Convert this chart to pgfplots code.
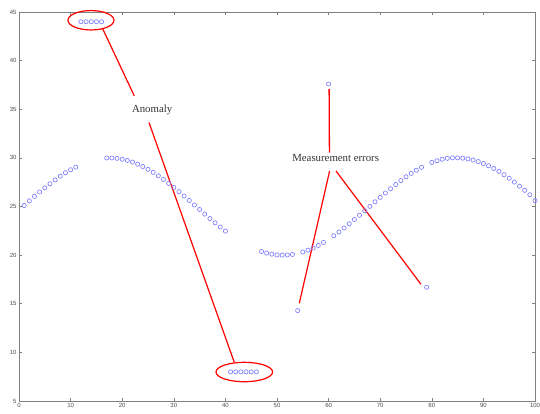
\documentclass[border=0pt]{standalone}
\usepackage{pgfplots}
\pgfplotsset{compat=1.18}
\usepackage{fontspec}
\setmainfont{Liberation Serif}
\newfontfamily\ticksans{Liberation Sans}
\definecolor{axgray}{RGB}{128,128,128}
\definecolor{mkblue}{RGB}{125,125,255}
\begin{document}
\begin{tikzpicture}
\begin{axis}[
  scale only axis, width=516pt, height=389pt,
  xmin=0, xmax=100, ymin=5, ymax=45,
  xtick={0,10,...,100}, ytick={5,10,...,45},
  tick align=inside, major tick length=3pt,
  axis line style={axgray, line width=0.6pt},
  every tick/.style={axgray, line width=0.5pt},
  tick label style={font=\ticksans\fontsize{6}{7}\selectfont, text=black!70},
  /pgf/number format/assume math mode=true,
  xticklabel style={yshift=1pt},
  yticklabel style={xshift=1pt},
  clip=false,
]
\addplot[only marks, mark=o, mark size=2.1pt, mkblue, mark options={line width=0.65pt}] coordinates {
(1,25.10)(2,25.58)(3,26.04)(4,26.49)(5,26.92)(6,27.34)(7,27.74)(8,28.12)(9,28.47)(10,28.78)(11,29.05)
(12,44)(13,44)(14,44)(15,44)(16,44)
(17,29.99)(18,29.99)(19,29.95)(20,29.86)(21,29.74)(22,29.57)(23,29.35)(24,29.11)(25,28.82)(26,28.51)
(27,28.16)(28,27.78)(29,27.38)(30,26.96)(31,26.53)(32,26.08)(33,25.62)(34,25.15)(35,24.69)(36,24.22)
(37,23.76)(38,23.32)(39,22.89)(40,22.47)
(41,8)(42,8)(43,8)(44,8)(45,8)(46,8)
(47,20.37)(48,20.21)(49,20.10)(50,20.02)(51,20.00)(52,20.02)(53,20.07)
(54,14.3)
(55,20.32)(56,20.51)(57,20.73)(58,21.00)(59,21.30)
(60,37.6)
(61,21.99)(62,22.38)(63,22.79)(64,23.22)(65,23.66)(66,24.10)(67,24.56)(68,25.01)(69,25.48)(70,25.94)
(71,26.39)(72,26.83)(73,27.26)(74,27.66)(75,28.05)(76,28.41)(77,28.73)(78,29.03)
(79,16.7)
(80,29.53)(81,29.71)(82,29.86)(83,29.95)(84,30.00)(85,30.00)(86,29.97)(87,29.89)(88,29.78)(89,29.62)
(90,29.42)(91,29.19)(92,28.91)(93,28.61)(94,28.27)(95,27.90)(96,27.51)(97,27.09)(98,26.66)(99,26.21)(100,25.60)
};
% annotations
\draw[red, line width=1.2pt] (axis cs:13.95,44.15) ellipse [x radius=23pt, y radius=9.7pt];
\draw[red, line width=1.2pt] (axis cs:43.66,7.98) ellipse [x radius=28.3pt, y radius=9.7pt];
\draw[red, line width=1.2pt] (axis cs:16.22,43.27) -- (axis cs:22.34,36.38);
\draw[red, line width=1.2pt] (axis cs:25.19,33.63) -- (axis cs:41.72,8.98);
\node[font=\fontsize{10.8}{13}\selectfont, text=black!80] at (axis cs:25.8,34.94) {Anomaly};
\draw[red, line width=1.3pt] (axis cs:60.1,37.07) -- (axis cs:60.16,30.55);
\draw[red, line width=1.2pt] (axis cs:60.2,28.66) -- (axis cs:54.32,15.05);
\draw[red, line width=1.2pt] (axis cs:61.43,28.66) -- (axis cs:77.9,17.0);
\node[font=\fontsize{10.8}{13}\selectfont, text=black!80] at (axis cs:61.37,29.97) {Measurement errors};
\end{axis}
\pgfresetboundingbox
\path ([shift={(-19pt,-13pt)}]current axis.south west) rectangle ([shift={(5pt,12pt)}]current axis.north east);
\end{tikzpicture}
\end{document}
